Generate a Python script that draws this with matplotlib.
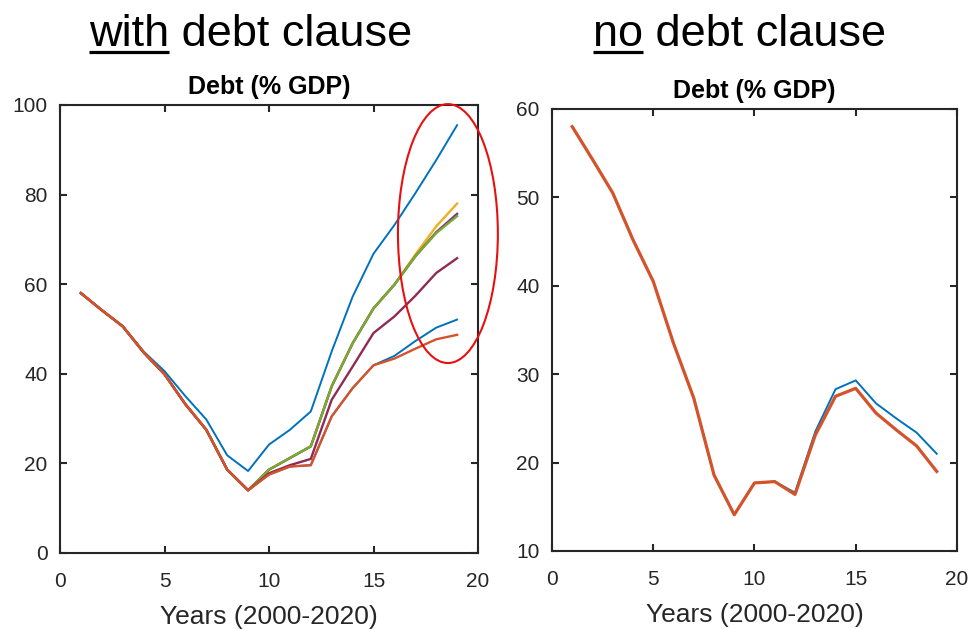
import matplotlib
matplotlib.use("Agg")
import matplotlib.pyplot as plt
from matplotlib.patches import Ellipse
from matplotlib.lines import Line2D

plt.rcParams['font.family'] = ['Liberation Sans', 'DejaVu Sans']

years = list(range(1, 20))

# ---- with debt clause (left) ----
left_blue_high = [58.0, 54.2, 50.6, 45.0, 40.6, 35.0, 29.8, 21.8, 18.3, 24.2, 27.5, 31.6, 45.0, 57.2, 66.8, 73.2, 80.3, 87.7, 95.5]
left_blue_low = [58.0, 54.2, 50.6, 44.8, 39.9, 33.2, 27.5, 18.6, 14.0, 17.5, 19.3, 19.6, 30.5, 36.8, 41.9, 44.0, 47.3, 50.3, 52.1]
left_yellow = [58.0, 54.2, 50.6, 44.8, 39.9, 33.2, 27.5, 18.6, 14.0, 18.6, 21.2, 23.8, 37.2, 46.8, 54.6, 59.9, 66.6, 72.9, 78.0]
left_purple = [58.0, 54.2, 50.6, 44.8, 39.9, 33.2, 27.5, 18.6, 14.0, 18.6, 21.2, 23.8, 37.2, 46.8, 54.6, 59.9, 66.2, 71.6, 75.7]
left_green = [58.0, 54.2, 50.6, 44.8, 39.9, 33.2, 27.5, 18.6, 14.0, 18.6, 21.2, 23.8, 37.2, 46.8, 54.6, 59.9, 66.2, 71.4, 75.2]
left_maroon = [58.0, 54.2, 50.6, 44.8, 39.9, 33.2, 27.5, 18.6, 14.0, 17.8, 19.6, 21.0, 34.2, 41.6, 49.1, 52.8, 57.4, 62.5, 65.8]
left_orange = [58.0, 54.2, 50.6, 44.8, 39.9, 33.2, 27.5, 18.6, 14.0, 17.5, 19.3, 19.6, 30.5, 36.8, 41.9, 43.4, 45.6, 47.7, 48.7]

# ---- no debt clause (right) ----
right_blue = [58.0, 54.3, 50.5, 45.2, 40.5, 33.5, 27.3, 18.6, 14.1, 17.7, 17.85, 16.6, 23.5, 28.3, 29.3, 26.7, 25.0, 23.4, 21.0]
right_orange = [58.0, 54.3, 50.5, 45.2, 40.5, 33.5, 27.3, 18.6, 14.1, 17.7, 17.85, 16.4, 23.1, 27.5, 28.4, 25.6, 23.7, 21.9, 19.0]

left_yticks = [0, 20, 40, 60, 80, 100]
right_yticks = [10, 20, 30, 40, 50, 60]
xticks = [0, 5, 10, 15, 20]

headings = [("with", " debt clause"), ("no", " debt clause")]
subtitle = "Debt (% GDP)"
xlabel = "Years (2000-2020)"

BLUE = '#0072BD'
ORANGE = '#D4532A'
YELLOW = '#EDB120'
PURPLE = '#7E2F8E'
GREEN = '#77AC30'
MAROON = '#8F2B55'
GRAY = '#262626'

W, H = 970, 629
fig = plt.figure(figsize=(W / 100, H / 100), dpi=100)


def px_axes(x0, y0, x1, y1):
    return fig.add_axes([x0 / W, 1 - y1 / H, (x1 - x0) / W, (y1 - y0) / H])


axL = px_axes(60, 105, 478, 553)
axR = px_axes(552, 109, 957, 551)


def style(ax, yticks, ylim):
    ax.set_xlim(0, 20)
    ax.set_ylim(*ylim)
    ax.set_xticks(xticks)
    ax.set_yticks(yticks)
    for s in ax.spines.values():
        s.set_color(GRAY)
        s.set_linewidth(1.5)
    ax.tick_params(direction='in', length=5, width=1.5, color=GRAY,
                   top=True, right=True, labelsize=15, labelcolor=GRAY)
    ax.tick_params(axis='x', pad=14)
    ax.tick_params(axis='y', pad=9)
    ax.set_title(subtitle, fontsize=18, fontweight='bold', pad=8)
    ax.set_xlabel(xlabel, fontsize=19, color=GRAY, labelpad=10)


lw = 1.4
axL.plot(years, left_blue_high, color=BLUE, lw=lw)
axL.plot(years, left_blue_low, color=BLUE, lw=lw)
axL.plot(years, left_yellow, color=YELLOW, lw=lw + 0.3)
axL.plot(years, left_purple, color=PURPLE, lw=lw + 0.3)
axL.plot(years, left_green, color=GREEN, lw=lw + 0.3)
axL.plot(years, left_maroon, color=MAROON, lw=lw + 0.3)
axL.plot(years, left_orange, color=ORANGE, lw=lw + 0.3)
style(axL, left_yticks, (0, 100))

ell = Ellipse((18.56, 71.3), width=4.78, height=57.8, fill=False,
              edgecolor='#E8100F', lw=1.5, clip_on=False, zorder=10)
axL.add_patch(ell)

axR.plot(years, right_blue, color=BLUE, lw=lw)
axR.plot(years, right_orange, color=ORANGE, lw=lw + 0.9)
style(axR, right_yticks, (10, 60))

# headings with underlined first word
fig.canvas.draw()
renderer = fig.canvas.get_renderer()
head_fs = 32.5
for (first, rest), cx in zip(headings, [251, 740]):
    full = first + rest
    t = fig.text(cx / W, 1 - 46 / H, full, ha='center', va='baseline',
                 fontsize=head_fs, color='black')
    bb = t.get_window_extent(renderer)
    tmp = fig.text(0, 0, first, fontsize=head_fs)
    wb = tmp.get_window_extent(renderer)
    tmp.remove()
    x0 = bb.x0 / W
    x1 = (bb.x0 + wb.width) / W
    yu = 1 - 51.5 / H
    fig.add_artist(Line2D([x0, x1], [yu, yu], color='black', lw=2.3,
                          transform=fig.transFigure, solid_capstyle='butt'))

fig.savefig('out.png', dpi=100)
